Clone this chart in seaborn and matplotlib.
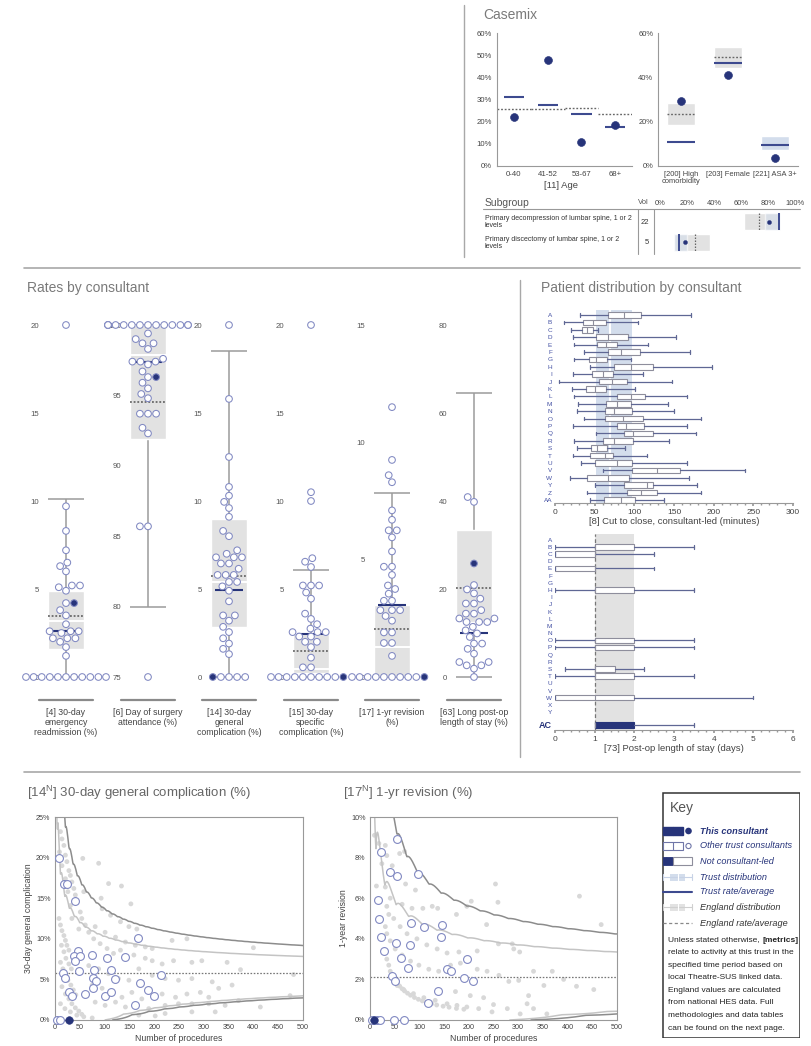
import numpy as np
import pandas as pd
import matplotlib
matplotlib.use("Agg")
import matplotlib.pyplot as plt
import seaborn as sns
from matplotlib.lines import Line2D
from matplotlib.patches import Rectangle, Circle
from matplotlib.ticker import MultipleLocator

# ---------------- DATA ----------------
age_groups = ["0-40", "41-52", "53-67", "68+"]
age_consultant = [22, 48, 11, 18.5]
age_trust = [31, 27.5, 23.5, 17.5]
age_england = [25.5, 25.5, 26, 23.5]

cm_labels = ["[200] High\ncomorbidity", "[203] Female", "[221] ASA 3+"]
cm_consultant = [29.5, 41, 3.5]
cm_trust = [11, 46.5, 9.5]
cm_england = [23.5, 49, np.nan]
cm_box_lo = [18.5, 44, 7]
cm_box_hi = [28.5, 53.5, 13.5]

sub_names = ["Primary decompression of lumbar spine, 1 or 2\nlevels",
             "Primary discectomy of lumbar spine, 1 or 2\nlevels"]
sub_vol = [22, 5]
sub_consultant = [81, 18.5]
sub_trust = [88, 14]
sub_england = [73, 26]
sub_eng_lo = [62.5, 10.6]
sub_eng_hi = [89, 37]
sub_trust_lo = [78, 10.6]
sub_trust_hi = [89, 20]

# Rates by consultant
r4_others = [20, 9.7, 8.3, 7.2, 6.5, 6.3, 6.0, 5.2, 5.2, 5.1, 4.9, 4.2, 3.8, 3.5, 3.0,
             2.6, 2.6, 2.6, 2.5, 2.2, 2.2, 2.2, 2.0, 1.7, 1.2,
             0, 0, 0, 0, 0, 0, 0, 0, 0, 0, 0]
r4_this = 4.2
r4_stats = dict(box=(1.6, 4.9), med=3.2, avg=3.45, trust=2.6, whisk=(0, 10.1))

r6_others = [100, 100, 100, 100, 100, 100, 100, 100, 100, 100, 100, 100, 100, 100,
             99.4, 99.0, 98.7, 98.7, 98.3, 97.6, 97.4, 97.4, 97.4, 97.2, 96.7, 96.3,
             95.9, 95.5, 95.1, 94.8, 93.7, 93.7, 93.7, 92.7, 92.3, 85.7, 85.7, 75]
r6_this = 96.3
r6_stats = dict(box=(91.9, 100), med=97.9, avg=94.5, trust=97.4, whisk=(80, 100))

r14_others = [20, 15.8, 12.5, 10.8, 10.3, 9.95, 9.6, 9.1, 8.3, 8.0, 7.2, 7.0, 6.8, 6.8,
              6.8, 6.45, 6.45, 6.15, 5.8, 5.8, 5.8, 5.4, 5.4, 5.15, 4.9, 4.3, 3.5, 3.5,
              3.2, 2.85, 2.55, 2.2, 1.9, 1.6, 1.3, 0, 0, 0, 0]
r14_this = 0
r14_stats = dict(box=(2.85, 9.0), med=5.4, avg=5.75, trust=4.93, whisk=(0, 18.5))

r15_others = [20, 10.5, 10.0, 6.75, 6.55, 6.25, 5.2, 5.2, 5.2, 4.8, 4.45, 3.6, 3.3, 3.0,
              2.75, 2.55, 2.55, 2.55, 2.3, 2.3, 2.0, 2.0, 1.7, 1.1, 0.55, 0.55,
              0, 0, 0, 0, 0, 0, 0, 0, 0]
r15_this = 0
r15_stats = dict(box=(0.25, 2.45), med=0.47, avg=1.48, trust=2.46, whisk=(0, 6.07))

r17_others = [11.5, 9.25, 8.6, 8.3, 7.1, 6.7, 6.25, 6.25, 5.95, 5.35, 4.7, 4.7, 4.35,
              3.9, 3.75, 3.55, 3.25, 3.25, 2.85, 2.85, 2.85, 2.6, 2.4, 1.9, 1.9, 1.45,
              1.45, 0.9, 0, 0, 0, 0, 0, 0, 0, 0, 0]
r17_this = 0
r17_stats = dict(box=(0, 3.06), med=1.28, avg=2.06, trust=3.06, whisk=(0, 7.82))

r63_others = [40.9, 39.8, 20.9, 19.9, 19.0, 17.8, 16.7, 16.7, 15.2, 14.4, 14.4, 13.3,
              13.3, 12.5, 12.5, 12.5, 11.4, 10.6, 9.9, 9.1, 7.6, 7.6, 6.4, 5.3, 3.4,
              3.4, 2.65, 2.65, 1.9, 0]
r63_this = 25.8
r63_stats = dict(box=(12.5, 33.4), med=np.nan, avg=20.3, trust=10.0, whisk=(0, 64.6))

rate_labels = ["[4] 30-day\nemergency\nreadmission (%)",
               "[6] Day of surgery\nattendance (%)",
               "[14] 30-day\ngeneral\ncomplication (%)",
               "[15] 30-day\nspecific\ncomplication (%)",
               "[17] 1-yr revision\n(%)",
               "[63] Long post-op\nlength of stay (%)"]
rate_ylims = [(0, 20), (75, 100), (0, 20), (0, 20), (0, 15), (0, 80)]
rate_yticks = [[0, 5, 10, 15, 20], [75, 80, 85, 90, 95, 100], [0, 5, 10, 15, 20],
               [0, 5, 10, 15, 20], [0, 5, 10, 15], [0, 20, 40, 60, 80]]

# Patient distribution: cut to close (minutes)
pd1_names = ["A", "B", "C", "D", "E", "F", "G", "H", "I", "J", "K", "L", "M", "N", "O",
             "P", "Q", "R", "S", "T", "U", "V", "W", "Y", "Z", "AA"]
pd1_lo = [31.5, 11.7, 20.1, 23.1, 23.9, 36.9, 23.9, 44.1, 23.1, 5.5, 21.0, 24.3, 29.4,
          27.3, 36.5, 23.1, 51.6, 23.9, 28.1, 23.1, 32.3, 60.0, 18.9, 50.4, 40.7, 44.1]
pd1_q1 = [67.1, 35.7, 33.6, 51.6, 53.3, 67.1, 43.2, 74.3, 46.2, 55.0, 39.0, 77.6, 64.2,
          62.9, 62.9, 77.6, 86.9, 60.8, 44.9, 44.1, 50.8, 96.5, 40.7, 86.9, 91.1, 61.7]
pd1_med = [86.9, 47.4, 39.9, 67.1, 64.2, 82.7, 51.6, 95.7, 60.0, 71.3, 50.4, 95.7, 77.6,
           74.3, 86.0, 89.4, 97.8, 74.3, 53.3, 63.4, 77.6, 128.0, 66.3, 116.2, 107.8, 83.1]
pd1_q3 = [107.9, 64.2, 47.4, 92.3, 78.5, 107.0, 65.0, 123.8, 72.6, 91.1, 64.2, 113.3,
          95.7, 97.4, 110.4, 112.5, 123.8, 98.6, 65.9, 72.6, 96.5, 157.4, 93.6, 122.9,
          128.0, 100.7]
pd1_hi = [172.0, 104.9, 54.6, 152.3, 117.5, 170.0, 95.7, 198.5, 111.2, 146.9, 100.7,
          166.6, 142.7, 149.8, 184.6, 165.8, 177.5, 143.5, 88.1, 116.2, 167.0, 239.2,
          168.7, 179.2, 184.6, 137.6]
pd1_trust_lo, pd1_trust_hi, pd1_trust_med = 51.6, 96.5, 69.2

# Patient distribution: post-op length of stay (days)
pd2_names = ["A", "B", "C", "D", "E", "F", "G", "H", "I", "J", "K", "L", "M", "N", "O",
             "P", "Q", "R", "S", "T", "U", "V", "W", "X", "Y", "AC"]
pd2_rows = ["B", "C", "E", "H", "O", "P", "S", "T", "W", "AC"]
pd2_lo = [0, 0, 0, 0, 0, 0, 0.25, 0, 0, 1]
pd2_q1 = [1, 0, 0, 1, 1, 1, 1, 1, 0, 1]
pd2_med = [1, 1, 1, 1, 1, 1, 1, 1, 1, 1]
pd2_q3 = [2, 1, 1, 2, 2, 2, 1.5, 2, 2, 2]
pd2_hi = [3.5, 2.5, 2.5, 3.5, 3.5, 3.5, 2.25, 3.5, 5, 3.5]
pd2_eng_lo, pd2_eng_hi, pd2_eng_avg = 1, 2, 1

# Funnel plot 1: 30-day general complication
f14_mean = 5.8
f14_eng_n = [11, 14, 18, 9, 21, 24, 14, 28, 31, 21, 34, 38, 26, 41, 44, 31, 51, 54, 34, 61,
             48, 68, 8, 11, 14, 18, 21, 24, 28, 13, 18, 22, 28, 33, 11, 16, 21, 26, 32, 37,
             42, 14, 21, 28, 34, 41, 48, 54, 11, 20, 31, 44, 58, 75, 56, 88, 108, 134, 58,
             93, 153, 95, 112, 132, 149, 165, 81, 101, 122, 142, 162, 182, 196, 78, 91, 105,
             118, 132, 159, 182, 196, 216, 239, 266, 236, 276, 296, 347, 374, 400, 481, 68,
             88, 108, 128, 149, 169, 196, 222, 249, 276, 317, 357, 75, 95, 115, 135, 155,
             175, 216, 243, 266, 293, 310, 330, 81, 101, 122, 142, 189, 222, 249, 276, 310,
             343, 370, 414, 474, 169, 202, 222, 276, 323]
f14_eng_pct = [23.2, 22.3, 21.5, 20.7, 20.3, 19.5, 19.0, 18.4, 17.8, 17.4, 17.0, 16.2,
               15.8, 15.4, 14.5, 14.1, 13.3, 12.5, 12.5, 11.7, 11.2, 10.8, 12.5, 11.7,
               11.0, 10.4, 9.8, 9.2, 8.6, 9.2, 8.4, 7.6, 6.9, 6.3, 7.1, 6.3, 5.5, 4.9,
               4.3, 3.7, 3.1, 4.1, 3.2, 2.6, 2.0, 1.5, 1.1, 0.7, 2.0, 1.4, 1.0, 0.6, 0.4,
               0.25, 19.9, 19.3, 16.8, 16.5, 15.8, 15.0, 14.3, 13.7, 12.9, 12.1, 11.5,
               11.2, 11.5, 10.8, 10.2, 9.6, 9.2, 9.0, 8.8, 10.0, 9.4, 8.8, 8.2, 8.6, 8.0,
               7.6, 7.3, 6.9, 7.3, 10.0, 9.8, 7.1, 7.3, 7.1, 6.2, 8.9, 5.6, 6.7, 6.3, 5.7,
               5.1, 4.9, 6.3, 5.5, 5.1, 4.9, 5.1, 4.7, 4.3, 4.3, 3.9, 3.2, 2.8, 3.4, 2.6,
               3.2, 2.8, 3.2, 3.4, 2.8, 3.9, 2.2, 1.8, 2.2, 1.6, 1.4, 1.8, 2.0, 2.0, 2.0,
               1.8, 2.4, 1.6, 3.0, 0.6, 0.5, 0.8, 1.0, 1.0]
f14_trust_n = [9, 18, 24, 40, 167, 46, 38, 51, 40, 75, 105, 142, 16, 49, 79, 113, 214, 20,
               76, 83, 120, 171, 28, 34, 61, 77, 100, 112, 188, 200, 161, 4, 10]
f14_trust_pct = [20.0, 16.7, 16.7, 14.6, 10.1, 8.5, 7.9, 7.9, 7.3, 8.0, 7.6, 7.7, 5.8,
                 6.0, 6.2, 6.2, 5.6, 5.2, 5.2, 4.8, 5.0, 4.6, 3.5, 2.9, 3.2, 3.9, 3.0,
                 3.4, 3.7, 3.0, 1.8, 0, 0]
f14_this_n, f14_this_pct = [29], [0]

# Funnel plot 2: 1-yr revision
f17_mean = 2.1
f17_eng_n = [9, 18, 31, 60, 70, 34, 24, 45, 13, 31, 72, 92, 254, 259, 424, 468, 41, 65, 85,
             107, 126, 137, 196, 205, 175, 236, 34, 38, 48, 61, 75, 95, 115, 136, 156, 180,
             217, 260, 288, 291, 303, 31, 34, 41, 51, 65, 82, 99, 119, 139, 163, 183, 217,
             237, 261, 281, 301, 331, 369, 392, 418, 453, 352, 34, 38, 41, 55, 68, 88, 109,
             132, 156, 176, 196, 220, 247, 173, 203, 230, 250, 278, 321, 318, 331, 358, 304,
             48, 52, 56, 60, 65, 70, 76, 82, 90, 98, 106, 115, 125, 135, 148, 160, 175, 190]
f17_eng_pct = [9.1, 8.7, 8.6, 8.2, 8.3, 8.1, 7.7, 7.6, 6.6, 6.55, 6.7, 6.4, 6.7, 5.8, 6.1,
               4.7, 6.0, 5.7, 5.5, 5.5, 5.6, 5.5, 5.6, 5.85, 5.2, 4.7, 5.6, 5.2, 5.0, 4.6,
               4.25, 4.0, 3.7, 3.5, 3.3, 3.35, 3.4, 3.75, 3.75, 3.5, 3.35, 4.6, 4.25, 3.9,
               3.5, 3.2, 2.9, 2.7, 2.5, 2.4, 2.7, 2.8, 2.5, 2.4, 2.2, 1.9, 1.95, 2.4, 2.4,
               2.0, 1.66, 1.5, 1.7, 3.0, 2.7, 2.4, 1.7, 1.5, 1.3, 1.1, 0.97, 0.8, 0.72,
               0.64, 0.56, 0.4, 1.4, 1.2, 1.1, 0.76, 0.56, 1.2, 0.8, 0.56, 0.3, 0.3,
               2.08, 1.92, 1.79, 1.67, 1.54, 1.43, 1.32, 1.22, 1.11, 1.02, 0.94, 0.87, 0.8,
               0.74, 0.68, 0.63, 0.57, 0.53]
f17_trust_n = [55, 22, 40, 55, 97, 16, 19, 22, 28, 82, 109, 146, 143, 53, 80, 63, 196, 76,
               155, 163, 45, 51, 191, 208, 137, 117, 4, 14, 21, 48, 68]
f17_trust_pct = [8.9, 8.3, 7.3, 7.1, 7.2, 5.9, 5.0, 4.1, 3.4, 4.8, 4.6, 4.7, 4.1, 3.8,
                 3.7, 3.05, 3.0, 2.56, 2.5, 2.4, 2.15, 1.9, 2.07, 1.9, 1.43, 0.84,
                 0, 0, 0, 0, 0]
f17_this_n, f17_this_pct = [8], [0]

# control-limit levels (upper outer, upper inner, lower inner, lower outer)
funnel_levels = [0.999, 0.975, 0.0025, 0.001]

key_items = ["This consultant", "Other trust consultants", "Not consultant-led",
             "Trust distribution", "Trust rate/average", "England distribution",
             "England rate/average"]
key_note = ["relate to activity at this trust in the",
            "specified time period based on",
            "local Theatre-SUS linked data.",
            "England values are calculated",
            "from national HES data. Full",
            "methodologies and data tables",
            "can be found on the next page."]

# ---------------- STYLE ----------------
navy = "#27347a"
trust_blue = "#3d4a8f"
open_edge = "#8189c2"
eng_gray = "#e2e2e2"
trust_fill = "#d3ddec"
whisk_gray = "#9b9b9b"
txt = "#444444"
title_gray = "#7a7a7a"
sep_gray = "#a8a8a8"
lab_blue = "#4350a3"

sns.set_theme(style="white")
plt.rcParams['font.family'] = ['Liberation Sans', 'DejaVu Sans']
plt.rcParams['mathtext.fontset'] = 'custom'
plt.rcParams['mathtext.rm'] = 'Liberation Sans'

W, H = 811, 1046
fig = plt.figure(figsize=(W / 100, H / 100), dpi=100)
fig.patch.set_facecolor("white")


def ax_px(x0, y0, x1, y1):
    a = fig.add_axes([x0 / W, 1 - y1 / H, (x1 - x0) / W, (y1 - y0) / H])
    a.patch.set_alpha(0)
    return a


def ftxt(x, y, s, **kw):
    return fig.text(x / W, 1 - y / H, s, **kw)


def fline(x0, y0, x1, y1, **kw):
    fig.add_artist(Line2D([x0 / W, x1 / W], [1 - y0 / H, 1 - y1 / H],
                          transform=fig.transFigure, **kw))


def style_spines(a, show=("left", "bottom"), color="#999999"):
    for s in ["left", "right", "top", "bottom"]:
        a.spines[s].set_visible(s in show)
        a.spines[s].set_color(color)
        a.spines[s].set_linewidth(0.8)


# ---------------- SEPARATORS / TITLES ----------------
fline(464, 5, 464, 257, color=sep_gray, lw=1)
fline(24, 268, 800, 268, color=sep_gray, lw=1.2)
fline(520, 280, 520, 757, color=sep_gray, lw=1)
fline(24, 772, 800, 772, color=sep_gray, lw=1.2)
ftxt(483, 15, "Casemix", fontsize=10, color=title_gray, va="center")
ftxt(27, 288, "Rates by consultant", fontsize=10, color=title_gray, va="center")
ftxt(541, 288, "Patient distribution by consultant", fontsize=10, color=title_gray, va="center")

# ---------------- CASEMIX: AGE ----------------
ax = ax_px(497, 33, 632, 166)
xs = np.arange(len(age_groups))
ax.set_xlim(-0.5, 3.5)
ax.set_ylim(0, 60)
ax.hlines(age_england, xs - 0.5, xs + 0.5, color="#666666", lw=1, linestyles=(0, (1.3, 1.3)))
ax.hlines(age_trust, xs - 0.3, xs + 0.3, color=trust_blue, lw=1.5)
sns.scatterplot(x=xs, y=age_consultant, color=navy, s=32, edgecolor=navy, ax=ax, zorder=5)
ax.set_xticks(xs)
ax.set_xticklabels(age_groups)
ax.set_yticks(range(0, 61, 10))
ax.set_yticklabels([f"{v}%" for v in range(0, 61, 10)])
style_spines(ax)
ax.tick_params(labelsize=5.6, labelcolor=txt, length=2, color="#999999", pad=1.5)
ftxt(561, 186, "[11] Age", fontsize=6.8, color=txt, ha="center", va="center")

# ---------------- CASEMIX: OTHER ----------------
ax = ax_px(658, 33, 798, 166)
xs = np.arange(len(cm_labels))
ax.set_xlim(-0.5, 2.5)
ax.set_ylim(0, 60)
box_cols = [eng_gray, eng_gray, trust_fill]
ax.bar(xs, np.array(cm_box_hi) - np.array(cm_box_lo), bottom=cm_box_lo, width=0.6,
       color=box_cols, zorder=1)
ax.hlines(cm_england, xs - 0.3, xs + 0.3, color="#666666", lw=1, linestyles=(0, (1.3, 1.3)), zorder=2)
ax.hlines(cm_trust, xs - 0.3, xs + 0.3, color=trust_blue, lw=1.5, zorder=3)
sns.scatterplot(x=xs, y=cm_consultant, color=navy, s=32, edgecolor=navy, ax=ax, zorder=5)
ax.set_xticks(xs)
ax.set_xticklabels(cm_labels, linespacing=0.95)
ax.set_yticks([0, 20, 40, 60])
ax.set_yticklabels(["0%", "20%", "40%", "60%"])
style_spines(ax)
ax.tick_params(labelsize=5.4, labelcolor=txt, length=2, color="#999999", pad=1.5)

# ---------------- SUBGROUP TABLE ----------------
ftxt(485, 203, "Subgroup", fontsize=7.5, color="#555555", va="center")
ftxt(643, 203, "Vol", fontsize=5.5, color="#555555", va="center", ha="center")
fline(483, 209, 800, 209, color="#999999", lw=0.8)
fline(638, 209, 638, 254, color="#999999", lw=0.8)
fline(654, 209, 654, 254, color="#999999", lw=0.8)
ax = ax_px(660, 209, 795, 255)
ax.set_xlim(0, 100)
ax.set_ylim(1.6, -0.6)
ys = np.arange(len(sub_names))
ax.barh(ys, np.array(sub_eng_hi) - np.array(sub_eng_lo), left=sub_eng_lo, height=0.8,
        color=eng_gray, zorder=1)
ax.barh(ys, np.array(sub_trust_hi) - np.array(sub_trust_lo), left=sub_trust_lo, height=0.8,
        color=trust_fill, alpha=0.6, zorder=1.5)
ax.vlines(sub_england, ys - 0.4, ys + 0.4, color="#666666", lw=0.9, linestyles=(0, (1.2, 1.2)), zorder=2)
ax.vlines(sub_trust, ys - 0.4, ys + 0.4, color=trust_blue, lw=1.4, zorder=3)
sns.scatterplot(x=sub_consultant, y=ys, color=navy, s=9, edgecolor=navy, ax=ax, zorder=5)
ax.xaxis.tick_top()
ax.set_xticks(range(0, 101, 20))
ax.set_xticklabels([f"{v}%" for v in range(0, 101, 20)])
ax.set_yticks([])
style_spines(ax, show=())
ax.tick_params(axis="x", labelsize=5.4, labelcolor=txt, length=0, pad=1.5)
for i, (nm, v) in enumerate(zip(sub_names, sub_vol)):
    yc = 222 + i * 21
    ftxt(485, yc, nm, fontsize=5.0, color="#333333", va="center", linespacing=1.05)
    ftxt(649, yc, str(v), fontsize=5.5, color="#333333", va="center", ha="right")

# ---------------- RATES BY CONSULTANT ----------------
centers = [66, 148, 229, 311, 392, 474]
rate_data = [(r4_others, r4_this, r4_stats), (r6_others, r6_this, r6_stats),
             (r14_others, r14_this, r14_stats), (r15_others, r15_this, r15_stats),
             (r17_others, r17_this, r17_stats), (r63_others, r63_this, r63_stats)]
for c, (others, this, st), lab, yl, yt in zip(centers, rate_data, rate_labels,
                                              rate_ylims, rate_yticks):
    ax = ax_px(c - 50, 325, c + 50, 677)
    ax.set_xlim(-0.5, 0.5)
    ax.set_ylim(*yl)
    bw = 0.18
    ax.vlines(0, st["whisk"][0], st["whisk"][1], color=whisk_gray, lw=1.1, zorder=0.5)
    ax.hlines(list(st["whisk"]), -bw, bw, color=whisk_gray, lw=1.1, zorder=0.5)
    ax.bar(0, st["box"][1] - st["box"][0], bottom=st["box"][0], width=2 * bw,
           color=eng_gray, zorder=1)
    if not np.isnan(st["med"]):
        ax.hlines(st["med"], -bw, bw, color="white", lw=1.4, zorder=2)
    ax.hlines(st["avg"], -bw, bw, color="#555555", lw=1.1, linestyles=(0, (1.2, 1.2)), zorder=3)
    ax.hlines(st["trust"], -0.14, 0.14, color=navy, lw=1.5, zorder=3)
    df = pd.DataFrame({"grp": "g", "val": list(others) + [this],
                       "who": ["other"] * len(others) + ["this"]})
    sns.swarmplot(data=df, x="grp", y="val", hue="who",
                  palette={"other": "white", "this": navy}, size=4.8,
                  edgecolor=open_edge, linewidth=0.75, legend=False, ax=ax,
                  zorder=4, warn_thresh=1)
    ax.set_xlim(-0.5, 0.5)
    ax.set_ylim(*yl)
    for coll in ax.collections:
        coll.set_clip_on(False)
    ax.set_xticks([])
    ax.set_xlabel("")
    ax.set_ylabel("")
    ax.set_yticks(yt)
    style_spines(ax, show=("left",), color="none")
    ax.spines["left"].set_position(("axes", 0.28))
    ax.tick_params(axis="y", labelsize=5.6, labelcolor="#555555", length=2,
                   color="#aaaaaa", width=0.8, pad=1.5)
    fline(c - 27, 700, c + 27, 700, color="#8a8a8a", lw=1.6)
    ftxt(c, 708, lab, fontsize=6.3, color=txt, ha="center", va="top", linespacing=1.15)


def bxp_h(a, stats, positions, widths):
    kw = dict(positions=positions, widths=widths, patch_artist=True, manage_ticks=False,
              showfliers=False,
              boxprops=dict(facecolor="white", edgecolor="#8e8e9c", lw=0.8),
              medianprops=dict(color="#8e8e9c", lw=0.8),
              whiskerprops=dict(color="#5f6794", lw=0.9),
              capprops=dict(color="#5f6794", lw=0.9), capwidths=0.5)
    try:
        return a.bxp(stats, orientation="horizontal", **kw)
    except TypeError:
        return a.bxp(stats, vert=False, **kw)


name_size = 4.6

# ---------------- PATIENT DISTRIBUTION 1 ----------------
ax = ax_px(555, 310, 793, 503)
ax.set_xlim(0, 300)
ax.set_ylim(25.4, -0.68)
ax.axvspan(pd1_trust_lo, pd1_trust_hi, color=trust_fill, zorder=0, lw=0)
ax.axvline(pd1_trust_med, color="white", lw=1.5, zorder=0.5)
stats = [dict(whislo=a, q1=b, med=m, q3=d, whishi=e, fliers=[])
         for a, b, m, d, e in zip(pd1_lo, pd1_q1, pd1_med, pd1_q3, pd1_hi)]
bxp_h(ax, stats, list(range(len(pd1_names))), 0.75)
ax.set_yticks(range(len(pd1_names)))
ax.set_yticklabels(pd1_names)
ax.xaxis.set_major_locator(MultipleLocator(50))
ax.xaxis.set_minor_locator(MultipleLocator(10))
style_spines(ax, show=("bottom",))
ax.tick_params(axis="y", labelsize=name_size, labelcolor=lab_blue, length=0, pad=2)
ax.tick_params(axis="x", which="major", labelsize=6, labelcolor=txt, length=2.5,
               color="#999999", pad=1.5, bottom=True)
ax.tick_params(axis="x", which="minor", length=1.3, color="#999999", bottom=True)
ax.set_xlabel("[8] Cut to close, consultant-led (minutes)", fontsize=6.8, color=txt, labelpad=1)

# ---------------- PATIENT DISTRIBUTION 2 ----------------
ax = ax_px(555, 534, 793, 730)
ax.set_xlim(0, 6)
ax.set_ylim(26.5, -0.8)
ax.axvspan(pd2_eng_lo, pd2_eng_hi, color=eng_gray, zorder=0, lw=0)
ax.axvline(pd2_eng_avg, color="#777777", lw=0.9, ls=(0, (3, 2)), zorder=0.5)
pos_map = {nm: (i if nm != "AC" else 25.8) for i, nm in enumerate(pd2_names)}
stats = [dict(whislo=a, q1=b, med=m, q3=d, whishi=e, fliers=[])
         for a, b, m, d, e in zip(pd2_lo, pd2_q1, pd2_med, pd2_q3, pd2_hi)]
res = bxp_h(ax, stats, [pos_map[r] for r in pd2_rows], 0.75)
for nm, patch in zip(pd2_rows, res["boxes"]):
    if nm == "AC":
        patch.set_facecolor(navy)
        patch.set_edgecolor(navy)
ax.set_yticks([pos_map[n] for n in pd2_names])
ax.set_yticklabels(pd2_names)
ax.xaxis.set_major_locator(MultipleLocator(1))
ax.xaxis.set_minor_locator(MultipleLocator(0.2))
style_spines(ax, show=("bottom",))
ax.tick_params(axis="y", labelsize=name_size, labelcolor=lab_blue, length=0, pad=2)
ax.tick_params(axis="x", which="major", labelsize=6, labelcolor=txt, length=2.5,
               color="#999999", pad=1.5, bottom=True)
ax.tick_params(axis="x", which="minor", length=1.3, color="#999999", bottom=True)
for tl in ax.get_yticklabels():
    if tl.get_text() == "AC":
        tl.set_fontweight("bold")
        tl.set_color(navy)
        tl.set_fontsize(6.5)
ax.set_xlabel("[73] Post-op length of stay (days)", fontsize=6.8, color=txt, labelpad=1)

# ---------------- FUNNEL PLOTS ----------------
logfact = np.concatenate([[0.0], np.cumsum(np.log(np.arange(1, 501)))])


def funnel_limit(p, level, ns):
    out = []
    for n in ns:
        k = np.arange(n + 1)
        lp = logfact[n] - logfact[k] - logfact[n - k] + k * np.log(p) + (n - k) * np.log(1 - p)
        cdf = np.cumsum(np.exp(lp))
        r = min(int(np.searchsorted(cdf, level)), n)
        fr = cdf[r]
        fm = cdf[r - 1] if r > 0 else 0.0
        a = (fr - level) / (fr - fm) if fr > fm else 0.0
        out.append((r - a) / n * 100)
    out = np.array(out)
    out[out < 0] = np.nan
    return out


def funnel(box, title_xy, title, mean, ymax, ystep, eng_n, eng_p, tr_n, tr_p, th_n, th_p, ylabel):
    a = ax_px(*box)
    a.set_xlim(0, 500)
    a.set_ylim(0, ymax)
    ns = np.arange(2, 501)
    for lev, col in zip(funnel_levels, ["#8c8c8c", "#c4c4c4", "#c4c4c4", "#8c8c8c"]):
        a.plot(ns, funnel_limit(mean / 100, lev, ns), color=col, lw=1.1, zorder=2)
    a.axhline(mean, color="#777777", lw=0.9, ls=(0, (1.3, 1.3)), zorder=2)
    sns.scatterplot(x=eng_n, y=eng_p, color="#d8d8d8", s=12, edgecolor="none", ax=a, zorder=1)
    sns.scatterplot(x=tr_n, y=tr_p, color="white", s=32, edgecolor=open_edge, linewidth=0.8,
                    ax=a, zorder=3)
    sns.scatterplot(x=th_n, y=th_p, color=navy, s=30, edgecolor=navy, ax=a, zorder=4)
    for coll in a.collections:
        coll.set_clip_on(False)
    a.set_xticks(range(0, 501, 50))
    yt = np.arange(0, ymax + 0.01, ystep)
    a.set_yticks(yt)
    a.set_yticklabels([f"{int(v)}%" for v in yt])
    style_spines(a, show=("left", "bottom", "top", "right"))
    a.tick_params(labelsize=5.2, labelcolor=txt, length=2, color="#999999", pad=1.2)
    a.set_xlabel("Number of procedures", fontsize=6.3, color=txt, labelpad=1.5)
    a.set_ylabel(ylabel, fontsize=6.3, color=txt, labelpad=2)
    ftxt(title_xy[0], title_xy[1], title, fontsize=9.5, color="#666666", va="center")


funnel((55, 817, 303, 1020), (27, 793), r"[14$^{\rm N}$] 30-day general complication (%)",
       f14_mean, 25, 5, f14_eng_n, f14_eng_pct, f14_trust_n, f14_trust_pct,
       f14_this_n, f14_this_pct, "30-day general complication")
funnel((370, 817, 617, 1020), (343, 793), r"[17$^{\rm N}$] 1-yr revision (%)",
       f17_mean, 10, 2, f17_eng_n, f17_eng_pct, f17_trust_n, f17_trust_pct,
       f17_this_n, f17_this_pct, "1-year revision")

# ---------------- KEY ----------------
kx = ax_px(662, 792, 800, 1038)
kx.set_xlim(662, 800)
kx.set_ylim(1038, 792)
kx.axis("off")
kx.add_patch(Rectangle((662.5, 792.5), 137, 245, fill=False, ec="#333333", lw=1.1))
kx.text(670, 808, "Key", fontsize=10, color="#555555", va="center")
rows_y = [831, 846, 861, 877, 892, 907, 923]
kx.add_patch(Rectangle((663, 827), 9.5, 8, fc=navy, ec=navy))
kx.add_patch(Rectangle((673, 827), 9.5, 8, fc=navy, ec=navy))
kx.add_patch(Circle((688.5, 831), 2.6, fc=navy, ec=navy))
kx.add_patch(Rectangle((663, 842), 19.5, 8, fc="white", ec="#6f76a8", lw=0.8))
kx.plot([673, 673], [842, 850], color="#6f76a8", lw=0.8)
kx.add_patch(Circle((688.5, 846), 2.6, fc="white", ec="#6f76a8", lw=0.8))
kx.add_patch(Rectangle((663, 857), 10, 8, fc=navy, ec=navy, hatch="....", lw=0.6))
kx.add_patch(Rectangle((673, 857), 19, 8, fc="white", ec="#8e8e9c", lw=0.8))
kx.plot([663, 692], [877, 877], color="#c7d2e6", lw=0.8)
kx.plot([663, 663], [874, 880], color="#c7d2e6", lw=0.8)
kx.plot([692, 692], [874, 880], color="#c7d2e6", lw=0.8)
kx.add_patch(Rectangle((670, 873.5), 15, 7, fc=trust_fill, ec="none"))
kx.plot([677.5, 677.5], [873.5, 880.5], color="white", lw=0.8)
kx.plot([663, 692], [892, 892], color=trust_blue, lw=1.5)
kx.plot([663, 692], [907, 907], color="#cfcfcf", lw=0.8)
kx.plot([663, 663], [904, 910], color="#cfcfcf", lw=0.8)
kx.plot([692, 692], [904, 910], color="#cfcfcf", lw=0.8)
kx.add_patch(Rectangle((670, 903.5), 15, 7, fc=eng_gray, ec="none"))
kx.plot([677.5, 677.5], [903.5, 910.5], color="white", lw=0.8)
kx.plot([663, 692], [923, 923], color="#888888", lw=0.9, ls=(0, (2.5, 2)))
for i, (lab, y) in enumerate(zip(key_items, rows_y)):
    col = navy if i < 5 else "#333333"
    kx.text(700, y, lab, fontsize=6.6, style="italic", color=col,
            fontweight="bold" if i == 0 else "normal", va="center")
t0 = kx.text(668, 940, "Unless stated otherwise, ", fontsize=6.0, color="#222222", va="center")
fig.canvas.draw()
bb = t0.get_window_extent(renderer=fig.canvas.get_renderer())
xpx = bb.x1 / fig.dpi * 100
kx.text(xpx + 0.3, 940, "[metrics]", fontsize=6.0, color="#222222", va="center", fontweight="bold")
for i, line in enumerate(key_note):
    kx.text(668, 952.6 + i * 12.6, line, fontsize=6.0, color="#222222", va="center")

fig.savefig("out.png", dpi=100, facecolor="white")
